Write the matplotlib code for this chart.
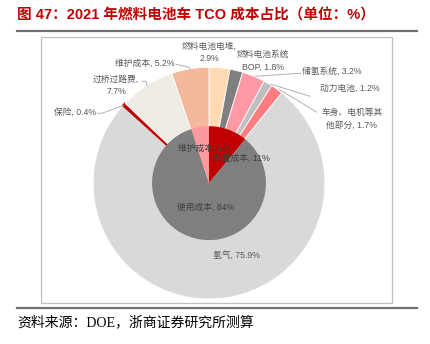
import matplotlib.pyplot as plt
from matplotlib.patches import Rectangle

# inner ring: cost groups (clockwise from 12 o'clock)
inner_names = ['购置成本', '使用成本', '维护成本']
inner_vals = [11, 84, 5]
inner_colors = ['#C00000', '#7F7F7F', '#FF99A0']

# outer ring: cost items
outer_names = ['燃料电池电堆', '燃料电池系统\nBOP', '储氢系统', '动力电池', '车身、电机等其\n他部分',
               '氢气', '保险', '过桥过路费', '维护成本']
outer_vals = [2.9, 1.8, 3.2, 1.2, 1.7, 75.9, 0.4, 7.7, 5.2]
outer_colors = ['#FFDAB5', '#7F7F7F', '#FF99A6', '#BFBFBF', '#FF7C80',
                '#D9D9D9', '#C00000', '#EEECE4', '#F4B99C']
outer_wrap = ['燃料电池电堆', '过桥过路费']  # value goes on the next line

LBL = ['Liberation Sans', 'Noto Sans CJK SC']
W, H = 430, 344
cx, cy = 209, H - 183
R_OUT, R_IN = 116, 57

fig = plt.figure(figsize=(4.3, 3.44), dpi=100)
ax = fig.add_axes([0, 0, 1, 0.999])

wedges, _ = ax.pie(outer_vals, colors=outer_colors, startangle=90, counterclock=False,
                   radius=R_OUT, center=(cx, cy),
                   wedgeprops=dict(edgecolor='white', linewidth=0.6))
ins = outer_names.index('保险')
wedges[ins].set_edgecolor(outer_colors[ins])
wedges[ins].set_linewidth(1.4)

ax.pie(inner_vals, colors=inner_colors, startangle=90, counterclock=False,
       radius=R_IN, center=(cx, cy), wedgeprops=dict(linewidth=0))

ax.set_xlim(0, W)
ax.set_ylim(0, H)
ax.set_aspect('equal')
ax.axis('off')

# frame around the chart and the report rules
ax.add_patch(Rectangle((41, H - 303), 351, 266, fill=False, edgecolor='#BFBFBF', lw=0.9))
ax.plot([17, 417], [H - 31, H - 31], color='#707070', lw=1.6)
ax.plot([17, 417], [H - 308, H - 308], color='#707070', lw=1.6)

# outer labels: (text x, text y, alignment, leader line points)
outer_pos = [
    (209, 52, 'center', None),
    (263, 61, 'center', None),
    (332, 71, 'center', [(255, 76), (301, 73)]),
    (350, 88, 'center', [(271, 84), (310, 96)]),
    (352, 119, 'center', [(279, 89), (317, 112)]),
    (236, 255, 'center', None),
    (75, 112, 'center', [(124, 105), (102, 113), (97, 113)]),
    (116, 85, 'center', [(147, 86), (146, 81), (142, 81)]),
    (145, 63, 'center', [(190, 69), (189, 67), (176, 64)]),
]
for name, v, (tx, ty, ha, pts) in zip(outer_names, outer_vals, outer_pos):
    sep = ',\n' if name in outer_wrap else ', '
    ax.text(tx, H - ty, f'{name}{sep}{v}%', ha=ha, va='center', fontsize=6.3,
            color='#595959', family=LBL, linespacing=1.55)
    if pts:
        ax.plot([p[0] for p in pts], [H - p[1] for p in pts], color='#A6A6A6', lw=0.6)

inner_pos = [(241, 158), (206, 207), (204, 148)]
for name, v, (tx, ty) in zip(inner_names, inner_vals, inner_pos):
    ax.text(tx, H - ty, f'{name}, {v}%', ha='center', va='center', fontsize=6.3,
            color='#404040', family=LBL)

fig.text(17 / W, 1 - 15 / H, '图 47：2021 年燃料电池车 TCO 成本占比（单位：%）',
         ha='left', va='center', fontsize=10.5, fontweight='bold', color='#C00000',
         family=['Liberation Sans', 'Noto Sans CJK SC'])
fig.text(17 / W, 1 - 322 / H, '资料来源：DOE，浙商证券研究所测算',
         ha='left', va='center', fontsize=10, color='#000000',
         family=['Liberation Serif', 'Noto Sans CJK SC'])

fig.savefig('out.png', dpi=100)
